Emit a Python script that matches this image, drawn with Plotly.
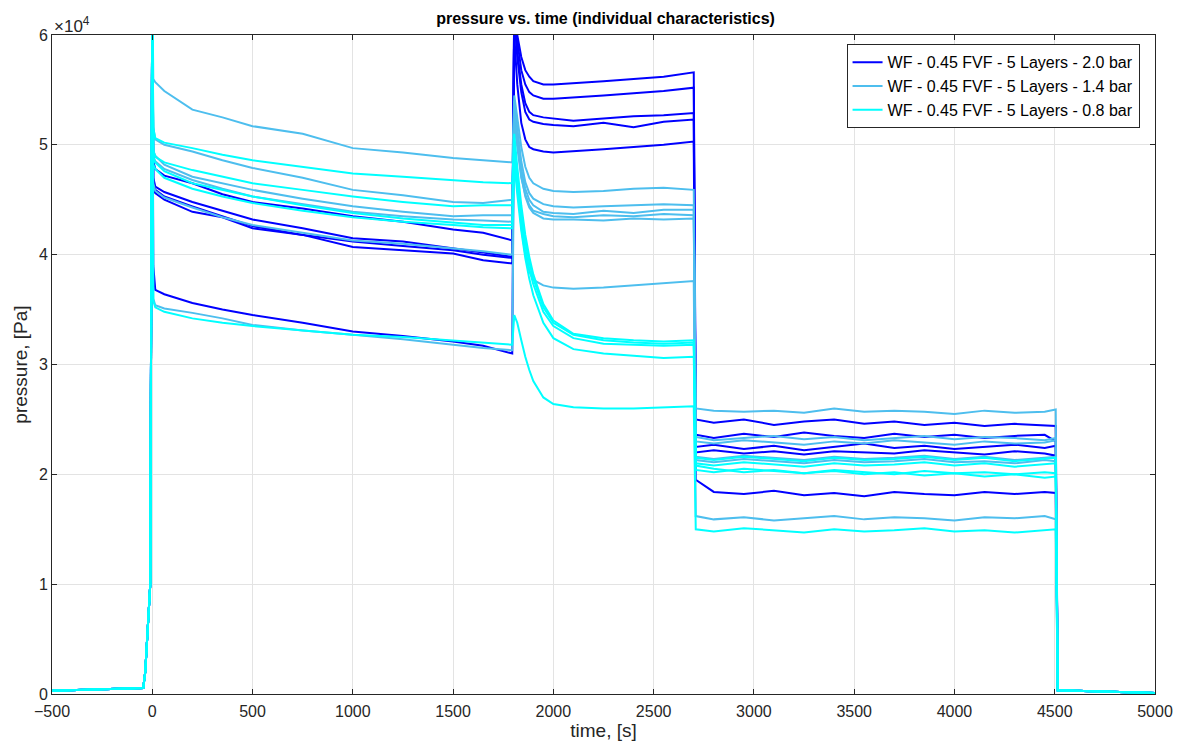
import numpy as np
import plotly.graph_objects as go

# ---------------- data (pressure in units of 1e4 Pa) ----------------
t_pre = [-500, -45, -35, -10, 0]
p_pre = [0.03, 0.055, 0.2, 1.0, 6.5]

t_main = [5, 15, 60, 200, 350, 500, 750, 1000, 1250, 1500, 1650, 1795,
          1805, 1820, 1840, 1860, 1880, 1900, 1950, 2000, 2100, 2250, 2400, 2550, 2700,
          2710, 2800, 2950, 3100, 3250, 3400, 3550, 3700, 3850, 4000, 4150, 4300, 4450, 4505]

t_post = [4515, 5000]
p_post = [0.035, 0.01]

# 2.0 bar (dark blue)
db1 = [4.85, 4.78, 4.72, 4.65, 4.55, 4.48, 4.42, 4.35, 4.30, 4.23, 4.20, 4.13,
       6.30, 6.00, 5.80, 5.68, 5.62, 5.58, 5.55, 5.55, 5.56, 5.58, 5.60, 5.62, 5.66,
       2.50, 2.47, 2.50, 2.45, 2.48, 2.50, 2.46, 2.48, 2.45, 2.47, 2.44, 2.46, 2.45, 2.44]
db2 = [4.70, 4.62, 4.57, 4.48, 4.40, 4.32, 4.24, 4.15, 4.12, 4.06, 4.02, 3.98,
       6.30, 5.95, 5.68, 5.55, 5.48, 5.45, 5.42, 5.42, 5.43, 5.45, 5.47, 5.49, 5.52,
       2.36, 2.33, 2.37, 2.34, 2.38, 2.35, 2.33, 2.37, 2.34, 2.36, 2.33, 2.35, 2.36, 2.30]
db3 = [4.65, 4.59, 4.53, 4.44, 4.35, 4.26, 4.18, 4.07, 4.04, 4.01, 3.95, 3.92,
       6.20, 5.85, 5.55, 5.38, 5.30, 5.27, 5.25, 5.24, 5.22, 5.24, 5.26, 5.27, 5.29,
       2.25, 2.27, 2.23, 2.26, 2.22, 2.25, 2.28, 2.24, 2.26, 2.23, 2.25, 2.27, 2.24, 2.26]
db4 = [4.62, 4.56, 4.50, 4.39, 4.34, 4.24, 4.18, 4.12, 4.08, 4.04, 4.00, 3.97,
       6.20, 5.80, 5.48, 5.30, 5.23, 5.21, 5.19, 5.18, 5.17, 5.20, 5.16, 5.21, 5.23,
       2.20, 2.22, 2.19, 2.21, 2.18, 2.21, 2.20, 2.19, 2.22, 2.20, 2.18, 2.21, 2.19, 2.17]
db5 = [3.90, 3.68, 3.64, 3.56, 3.50, 3.45, 3.38, 3.30, 3.26, 3.21, 3.17, 3.10,
       6.00, 5.55, 5.20, 5.05, 4.98, 4.96, 4.94, 4.93, 4.94, 4.96, 4.98, 5.00, 5.03,
       1.95, 1.84, 1.82, 1.85, 1.81, 1.83, 1.80, 1.84, 1.82, 1.81, 1.84, 1.82, 1.84, 1.83]

# 1.4 bar (light blue)
lb1 = [5.60, 5.57, 5.49, 5.32, 5.25, 5.17, 5.10, 4.97, 4.93, 4.88, 4.86, 4.84,
       5.45, 5.25, 4.98, 4.80, 4.70, 4.65, 4.60, 4.58, 4.57, 4.58, 4.60, 4.61, 4.59,
       2.60, 2.58, 2.57, 2.58, 2.56, 2.60, 2.57, 2.58, 2.57, 2.55, 2.58, 2.56, 2.57, 2.59]
lb2 = [5.16, 5.05, 5.00, 4.94, 4.86, 4.79, 4.70, 4.59, 4.54, 4.48, 4.47, 4.50,
       5.40, 5.15, 4.85, 4.66, 4.56, 4.51, 4.46, 4.44, 4.43, 4.44, 4.45, 4.46, 4.45,
       2.34, 2.31, 2.33, 2.35, 2.32, 2.34, 2.31, 2.33, 2.35, 2.32, 2.34, 2.33, 2.31, 2.33]
lb3 = [4.95, 4.90, 4.82, 4.71, 4.65, 4.59, 4.51, 4.44, 4.39, 4.35, 4.36, 4.36,
       5.35, 5.10, 4.78, 4.60, 4.50, 4.45, 4.39, 4.38, 4.37, 4.40, 4.38, 4.41, 4.41,
       2.30, 2.28, 2.31, 2.29, 2.27, 2.30, 2.28, 2.31, 2.29, 2.27, 2.30, 2.28, 2.29, 2.31]
lb4 = [4.90, 4.85, 4.78, 4.68, 4.60, 4.53, 4.46, 4.39, 4.35, 4.32, 4.31, 4.30,
       5.30, 5.05, 4.72, 4.53, 4.43, 4.38, 4.33, 4.32, 4.32, 4.31, 4.33, 4.32, 4.33,
       2.13, 2.11, 2.14, 2.12, 2.10, 2.13, 2.11, 2.12, 2.14, 2.11, 2.12, 2.10, 2.13, 2.12]
lb5 = [4.65, 4.58, 4.52, 4.43, 4.34, 4.27, 4.20, 4.13, 4.10, 4.06, 4.03, 4.00,
       5.00, 4.65, 4.25, 4.00, 3.85, 3.77, 3.72, 3.70, 3.69, 3.70, 3.72, 3.74, 3.76,
       1.62, 1.59, 1.61, 1.58, 1.60, 1.62, 1.59, 1.61, 1.60, 1.58, 1.61, 1.60, 1.62, 1.59]
lb6 = [3.60, 3.54, 3.51, 3.47, 3.42, 3.36, 3.31, 3.27, 3.23, 3.18, 3.15, 3.13,
       5.20, 4.98, 4.70, 4.55, 4.45, 4.40, 4.37, 4.35, 4.34, 4.36, 4.35, 4.37, 4.36,
       2.16, 2.14, 2.17, 2.15, 2.13, 2.16, 2.14, 2.15, 2.17, 2.14, 2.16, 2.13, 2.15, 2.16]

# 0.8 bar (cyan)
c1 = [5.15, 5.06, 5.02, 4.97, 4.91, 4.86, 4.80, 4.74, 4.71, 4.68, 4.66, 4.65,
      5.10, 4.80, 4.45, 4.18, 3.98, 3.82, 3.55, 3.40, 3.28, 3.24, 3.22, 3.21, 3.22,
      2.15, 2.13, 2.16, 2.14, 2.12, 2.15, 2.13, 2.14, 2.16, 2.13, 2.15, 2.12, 2.14, 2.15]
c2 = [4.95, 4.89, 4.84, 4.77, 4.71, 4.65, 4.59, 4.53, 4.48, 4.44, 4.45, 4.45,
      5.00, 4.70, 4.37, 4.12, 3.93, 3.78, 3.52, 3.38, 3.27, 3.22, 3.20, 3.19, 3.20,
      2.10, 2.08, 2.11, 2.09, 2.07, 2.10, 2.08, 2.09, 2.11, 2.08, 2.10, 2.07, 2.09, 2.10]
c3 = [4.88, 4.84, 4.76, 4.65, 4.59, 4.53, 4.45, 4.38, 4.33, 4.29, 4.27, 4.27,
      4.90, 4.62, 4.30, 4.05, 3.87, 3.73, 3.48, 3.35, 3.24, 3.19, 3.18, 3.17, 3.18,
      2.04, 2.02, 2.05, 2.03, 2.01, 2.04, 2.02, 2.00, 2.03, 2.01, 2.02, 2.00, 2.02, 2.01]
c4 = [3.58, 3.52, 3.48, 3.42, 3.38, 3.35, 3.31, 3.27, 3.25, 3.22, 3.20, 3.18,
      3.45, 3.38, 3.22, 3.07, 2.95, 2.85, 2.70, 2.64, 2.61, 2.60, 2.60, 2.61, 2.62,
      1.50, 1.48, 1.51, 1.49, 1.47, 1.50, 1.48, 1.49, 1.51, 1.48, 1.49, 1.47, 1.49, 1.50]
c5 = [4.82, 4.78, 4.70, 4.60, 4.53, 4.47, 4.40, 4.34, 4.30, 4.27, 4.25, 4.24,
      4.85, 4.55, 4.22, 3.97, 3.78, 3.63, 3.38, 3.24, 3.14, 3.10, 3.08, 3.06, 3.07,
      2.08, 2.05, 2.02, 2.04, 2.01, 2.03, 2.00, 2.02, 1.99, 2.01, 1.98, 2.00, 1.97, 1.98]

series_names = ["WF - 0.45 FVF - 5 Layers - 2.0 bar",
                "WF - 0.45 FVF - 5 Layers - 1.4 bar",
                "WF - 0.45 FVF - 5 Layers - 0.8 bar"]
groups = [[db1, db2, db3, db4, db5],
          [lb1, lb2, lb3, lb4, lb5, lb6],
          [c1, c2, c3, c4, c5]]
colors = ["#0000FF", "#4DBEEE", "#00FFFF"]

x_ticks = list(range(-500, 5001, 500))
y_ticks = [0, 1, 2, 3, 4, 5, 6]
SCALE = 1e4

# ---------------- figure ----------------
fig = go.Figure()
t_all = np.array(t_pre + t_main + t_post)
for name, grp, col in zip(series_names, groups, colors):
    for i, vals in enumerate(grp):
        y = np.array(p_pre + vals + p_post) * SCALE
        fig.add_trace(go.Scatter(
            x=t_all, y=y, mode="lines",
            line=dict(color=col, width=2),
            name=name, legendgroup=name, showlegend=(i == 0)))

axis_col = "#262626"
font_fam = "Liberation Sans, Arial, Helvetica, sans-serif"
common = dict(showline=True, linecolor=axis_col, linewidth=1, mirror="allticks",
              ticks="inside", ticklen=5, tickcolor=axis_col,
              showgrid=True, gridcolor="#E3E3E3", gridwidth=1, zeroline=False,
              tickfont=dict(family=font_fam, size=16, color=axis_col))

fig.update_layout(
    width=1185, height=753,
    margin=dict(l=52, r=25, t=35, b=59),
    paper_bgcolor="white", plot_bgcolor="white",
    font=dict(family=font_fam, color=axis_col),
    title=dict(text="<b>pressure vs. time (individual characteristics)</b>",
               x=0.511, xanchor="center", y=1 - 18 / 753, yanchor="middle",
               font=dict(size=16, color="black", family=font_fam)),
    xaxis=dict(range=[-500, 5000], tickvals=x_ticks, ticklabelstandoff=3,
               title=dict(text="time, [s]", font=dict(size=19, color=axis_col), standoff=2),
               **common),
    yaxis=dict(range=[0, 6 * SCALE], tickvals=[v * SCALE for v in y_ticks],
               ticktext=[str(v) for v in y_ticks],
               title=dict(text="pressure, [Pa]", font=dict(size=19, color=axis_col), standoff=6),
               **common),
    legend=dict(x=0.986, y=0.986, xanchor="right", yanchor="top",
                bgcolor="white", bordercolor=axis_col, borderwidth=1,
                font=dict(size=16, color="black", family=font_fam),
                tracegroupgap=0),
    showlegend=True,
)

fig.add_annotation(xref="paper", yref="paper", x=0, y=1, xanchor="left", yanchor="bottom",
                   text="×10<sup>4</sup>", showarrow=False, yshift=-3,
                   font=dict(size=17, color=axis_col, family=font_fam))

fig.write_html("out.html")
